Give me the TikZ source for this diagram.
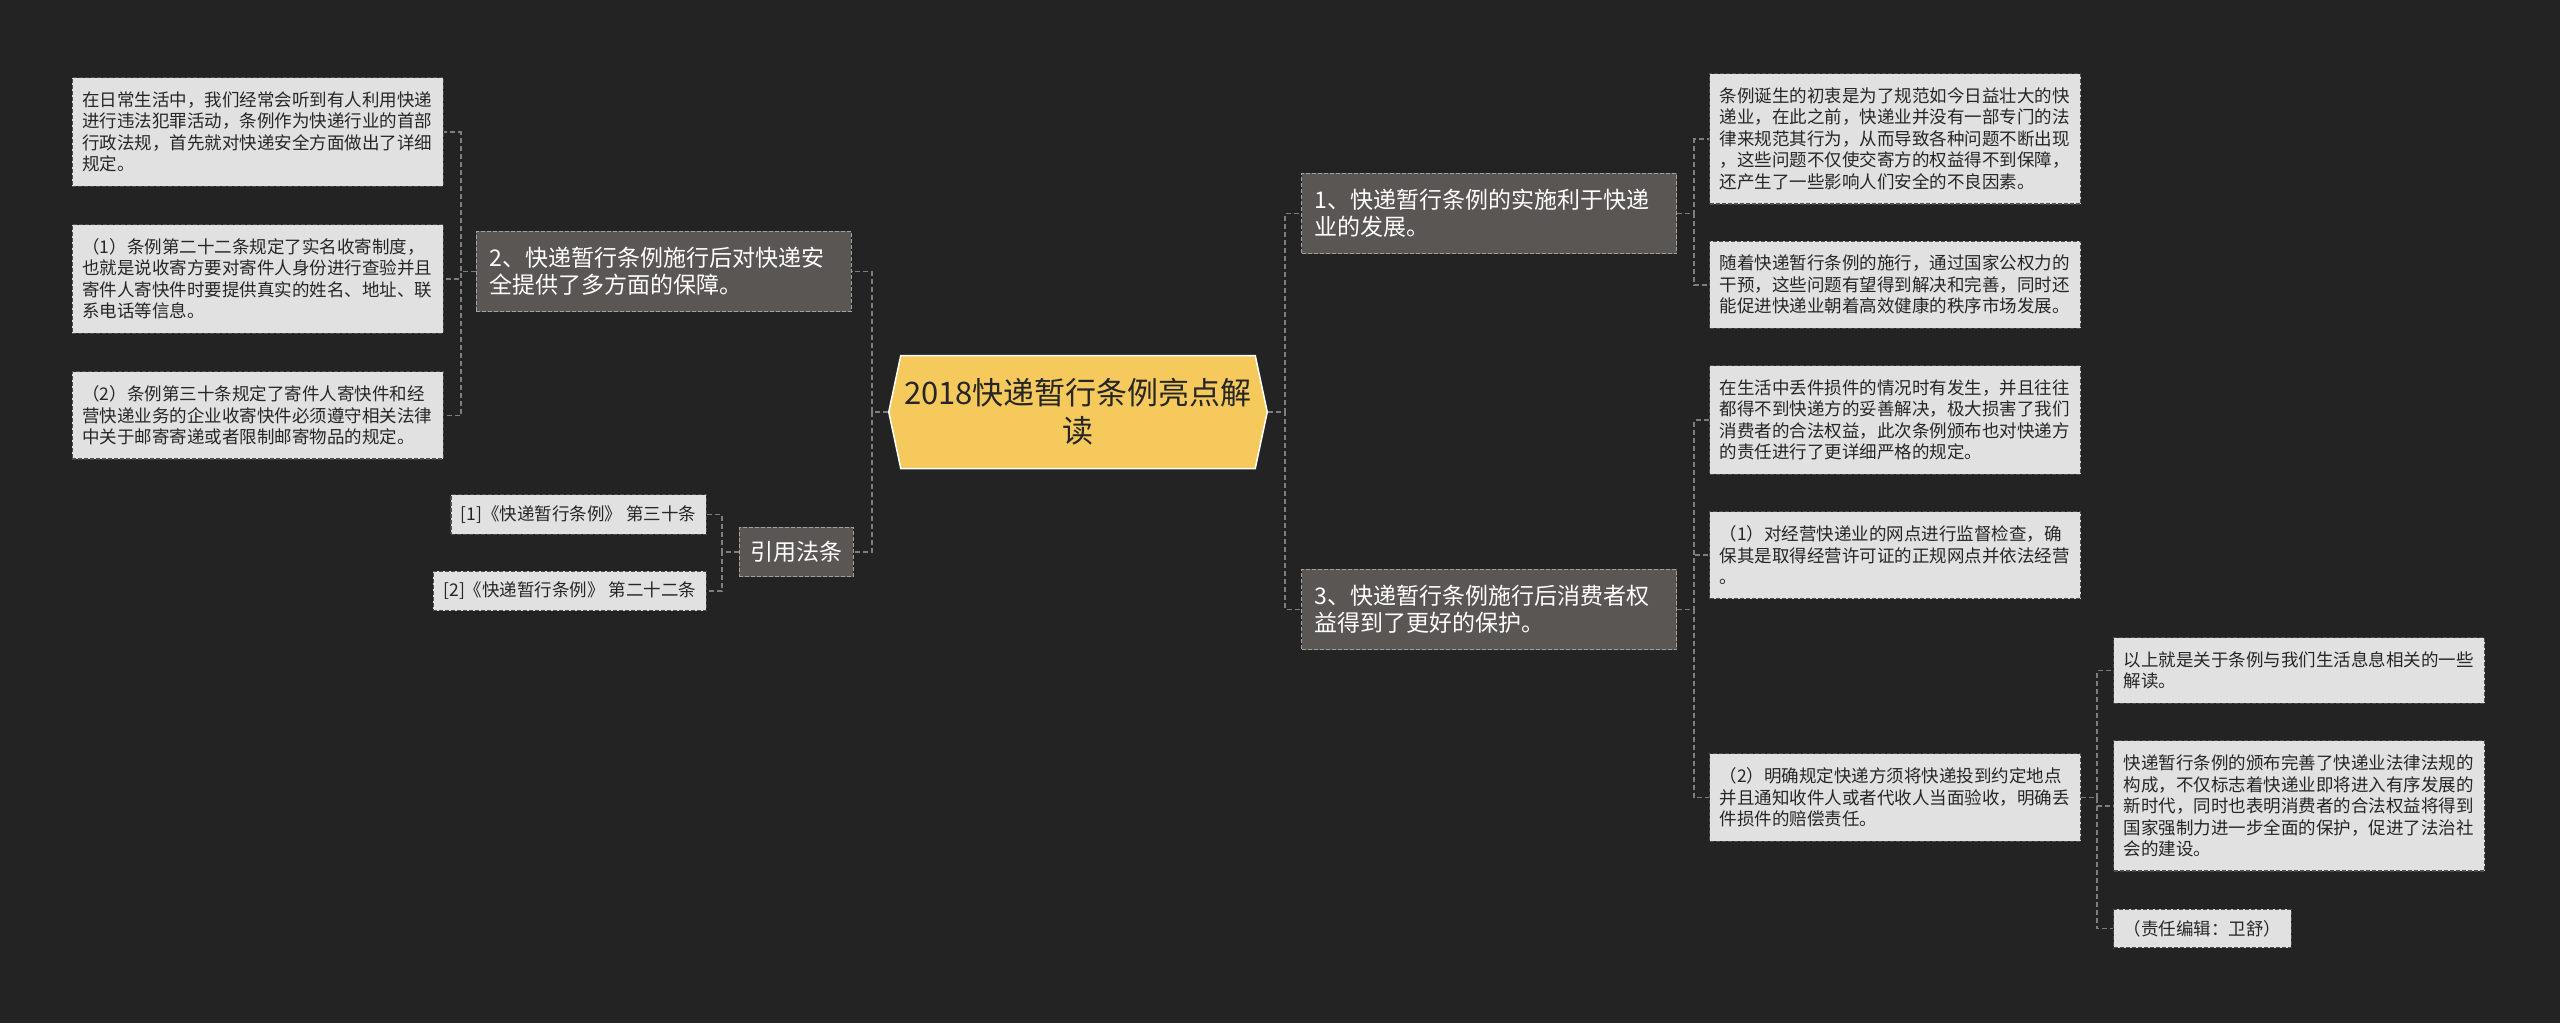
\documentclass[tikz,border=0pt]{standalone}
\usepackage{fontspec}
\setmainfont{Noto Sans CJK SC}
\usetikzlibrary{positioning, shapes.symbols}
\definecolor{bgdark}{HTML}{232323}
\definecolor{topicgold}{HTML}{F5C95C}
\definecolor{subgray}{HTML}{5A5653}
\definecolor{notegray}{HTML}{E1E1E1}
\definecolor{linkgray}{HTML}{7E7E7E}

\begin{document}
\begin{tikzpicture}[x=1pt, y=-1pt,
  node distance=36pt,
  topic/.style={signal, signal to=west and east, signal pointer angle=156, fill=topicgold, draw=white,
                line width=1.5pt, minimum width=362pt, minimum height=113pt, align=center,
                text=black!85, font=\fontsize{31}{38}\selectfont},
  sub/.style={rectangle, fill=subgray, draw=subgray!55!white, dash pattern=on 4pt off 2pt, line width=1.2pt,
              text=white, inner xsep=11pt, inner ysep=14pt, font=\fontsize{23}{27}\selectfont},
  branch/.style={sub, text width=349pt, inner xsep=13pt, inner ysep=16pt, align=left, font=\fontsize{23}{27}\selectfont},
  card/.style={rectangle, fill=notegray, draw=black!70, dash pattern=on 4pt off 2pt, line width=1.2pt,
               text=black!85, inner xsep=10pt, inner ysep=11pt, font=\fontsize{17.5}{21.5}\selectfont},
  note/.style={card, text width=351pt, inner ysep=14pt, align=left},
  link/.style={draw=linkgray, line width=1.5pt, dash pattern=on 5pt off 3pt}]
  \fill[bgdark] (0,0) rectangle (2560,1023);
  \useasboundingbox (0,0) rectangle (2560,1023);
  % centre and first level
  \node[topic] (root) at (1078,412) {2018快递暂行条例亮点解\\读};
  \node[branch, anchor=west] (law1) at (1301,213.5) {1、快递暂行条例的实施利于快递\\业的发展。};
  \node[branch, anchor=east] (law2) at (852,271.5) {2、快递暂行条例施行后对快递安\\全提供了多方面的保障。};
  \node[branch, anchor=west] (law3) at (1301,609.5) {3、快递暂行条例施行后消费者权\\益得到了更好的保护。};
  \node[sub, anchor=east] (cite) at (854,552) {引用法条};
  % left side
  \node[note, anchor=north east] (lf1) at (444,77) {在日常生活中，我们经常会听到有人利用快递\\进行违法犯罪活动，条例作为快递行业的首部\\行政法规，首先就对快递安全方面做出了详细\\规定。};
  \node[note, below=37pt of lf1] (lf2) {（1）条例第二十二条规定了实名收寄制度，\\也就是说收寄方要对寄件人身份进行查验并且\\寄件人寄快件时要提供真实的姓名、地址、联\\系电话等信息。};
  \node[note, below=37pt of lf2] (lf3) {（2）条例第三十条规定了寄件人寄快件和经\\营快递业务的企业收寄快件必须遵守相关法律\\中关于邮寄寄递或者限制邮寄物品的规定。};
  \node[card, anchor=east] (ref1) at (707,514.5) {[1]《快递暂行条例》 第三十条};
  \node[card, anchor=east] (ref2) at (707,591) {[2]《快递暂行条例》 第二十二条};
  % right side
  \node[note, anchor=north west] (r1) at (1709,73) {条例诞生的初衷是为了规范如今日益壮大的快\\递业，在此之前，快递业并没有一部专门的法\\律来规范其行为，从而导致各种问题不断出现\\，这些问题不仅使交寄方的权益得不到保障，\\还产生了一些影响人们安全的不良因素。};
  \node[note, below=of r1] (r2) {随着快递暂行条例的施行，通过国家公权力的\\干预，这些问题有望得到解决和完善，同时还\\能促进快递业朝着高效健康的秩序市场发展。};
  \node[note, below=of r2] (r3) {在生活中丢件损件的情况时有发生，并且往往\\都得不到快递方的妥善解决，极大损害了我们\\消费者的合法权益，此次条例颁布也对快递方\\的责任进行了更详细严格的规定。};
  \node[note, below=of r3] (r4) {（1）对经营快递业的网点进行监督检查，确\\保其是取得经营许可证的正规网点并依法经营\\。};
  \node[note, anchor=west] (r5) at (1709,797.5) {（2）明确规定快递方须将快递投到约定地点\\并且通知收件人或者代收人当面验收，明确丢\\件损件的赔偿责任。};
  \node[note, anchor=north west] (f1) at (2113,637) {以上就是关于条例与我们生活息息相关的一些\\解读。};
  \node[note, below=of f1] (f2) {快递暂行条例的颁布完善了快递业法律法规的\\构成，不仅标志着快递业即将进入有序发展的\\新时代，同时也表明消费者的合法权益将得到\\国家强制力进一步全面的保护，促进了法治社\\会的建设。};
  \node[card, below=37pt of f2.south west, anchor=north west] (f3) {（责任编辑：卫舒）};
  % connectors
  \draw[link] (root.west) -- ++(-16pt,0) |- (law2.east); \draw[link] (root.west) -- ++(-16pt,0) |- (cite.east);
  \draw[link] (root.east) -- ++(17pt,0) |- (law1.west); \draw[link] (root.east) -- ++(17pt,0) |- (law3.west);
  \draw[link] (law2.west) -- ++(-15pt,0) |- (lf1.east); \draw[link] (law2.west) -- ++(-15pt,0) |- (lf2.east);
  \draw[link] (law2.west) -- ++(-15pt,0) |- (lf3.east);
  \draw[link] (cite.west) -- ++(-17pt,0) |- (ref1.east); \draw[link] (cite.west) -- ++(-17pt,0) |- (ref2.east);
  \draw[link] (law1.east) -- ++(17pt,0) |- (r1.west); \draw[link] (law1.east) -- ++(17pt,0) |- (r2.west);
  \draw[link] (law3.east) -- ++(17pt,0) |- (r3.west); \draw[link] (law3.east) -- ++(17pt,0) |- (r4.west);
  \draw[link] (law3.east) -- ++(17pt,0) |- (r5.west);
  \draw[link] (r5.east) -- ++(16pt,0) |- (f1.west); \draw[link] (r5.east) -- ++(16pt,0) |- (f2.west);
  \draw[link] (r5.east) -- ++(16pt,0) |- (f3.west);
\end{tikzpicture}
\end{document}
